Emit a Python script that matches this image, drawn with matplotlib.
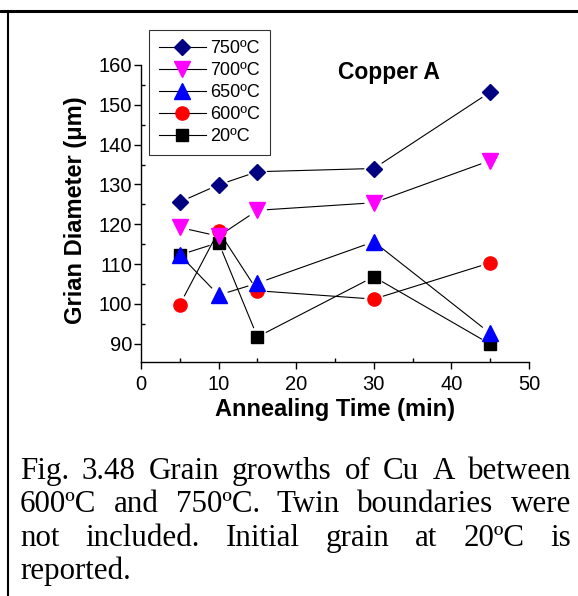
import numpy as np
import matplotlib
matplotlib.use("Agg")
import matplotlib.pyplot as plt
from matplotlib.lines import Line2D
from matplotlib.ticker import MultipleLocator

# annealing times (min) and grain diameters (um) per temperature
times = [5, 10, 15, 30, 45]
d750 = [125.6, 129.9, 133.2, 134.0, 153.2]
d700 = [119.2, 117.0, 123.5, 125.4, 136.0]
d650 = [112.3, 102.2, 105.2, 115.6, 92.6]
d600 = [99.8, 118.3, 103.3, 101.2, 110.3]
d20 = [112.3, 115.4, 91.7, 106.8, 89.9]

labels = ["750ºC", "700ºC", "650ºC", "600ºC", "20ºC"]
colors = ["#000080", "#ff00ff", "#0000ff", "#ff0000", "#000000"]
markers = ["D", "v", "^", "o", "s"]
msizes = [8.3, 11, 11, 9.5, 8.6]
series = [d750, d700, d650, d600, d20]

caption = ["Fig. 3.48 Grain growths of Cu A between",
           "600ºC and 750ºC. Twin boundaries were",
           "not included. Initial grain at 20ºC is",
           "reported."]

W, H = 578, 596
fig = plt.figure(figsize=(W / 100, H / 100), dpi=100)
plt.rcParams['font.family'] = ['Liberation Sans', 'DejaVu Sans']

ax = fig.add_axes([141 / W, 1 - 362 / H, 388 / W, 297 / H])
ax.set_xlim(0, 50)
ax.set_ylim(85.4, 160)
for s in ["top", "right"]:
    ax.spines[s].set_visible(False)
for s in ["left", "bottom"]:
    ax.spines[s].set_linewidth(1.0)

ax.xaxis.set_major_locator(MultipleLocator(10))
ax.xaxis.set_minor_locator(MultipleLocator(5))
ax.yaxis.set_minor_locator(MultipleLocator(5))
ax.set_yticks(np.arange(90, 161, 10))
ax.tick_params(which="major", direction="out", length=5, width=1, labelsize=14.5)
ax.tick_params(axis="x", which="major", pad=4)
ax.tick_params(axis="y", which="major", pad=1.5)
ax.tick_params(which="minor", direction="in", length=3, width=1)


def gapped_line(ax, xs, ys, gap=10):
    # connect points with segments that stop short of each marker
    tr = ax.transData
    pts = tr.transform(np.column_stack([xs, ys]))
    inv = tr.inverted()
    for p, q in zip(pts[:-1], pts[1:]):
        d = q - p
        u = d / np.hypot(*d)
        a, b = inv.transform([p + u * gap, q - u * gap])
        ax.plot([a[0], b[0]], [a[1], b[1]], color="black", lw=0.8, zorder=2)


for ys in series:
    gapped_line(ax, times, ys)

for ys, c, m, ms in reversed(list(zip(series, colors, markers, msizes))):
    ax.plot(times, ys, ls="none", marker=m, ms=ms, mfc=c, mec=c, zorder=3)

ax.set_xlabel("Annealing Time (min)", fontsize=17, fontweight="bold")
ax.set_ylabel("Grian Diameter (μm)", fontsize=17, fontweight="bold")
ax.yaxis.set_label_coords(-0.14, 0.51)
ax.xaxis.set_label_coords(0.5, -0.12)

ax.text(25.4, 158.2, "Copper A", fontsize=16.5, fontweight="bold", va="center", ha="left")

handles = [Line2D([], [], color="black", lw=0.8, marker=m, ms=ms, mfc=c, mec=c)
           for c, m, ms in zip(colors, markers, msizes)]
leg = fig.legend(handles, labels, loc="upper left", bbox_to_anchor=(149 / W, 1 - 30 / H),
                 fontsize=13, frameon=True, fancybox=False, edgecolor="black",
                 handlelength=2.6, handletextpad=0.25, labelspacing=0.28,
                 borderpad=0.55, borderaxespad=0)
leg.get_frame().set_linewidth(0.8)

# page frame lines
fig.add_artist(Line2D([0, 1], [1 - 10.5 / H, 1 - 10.5 / H], color="black", lw=2.2))
fig.add_artist(Line2D([7.5 / W, 7.5 / W], [0, 1 - 10.5 / H], color="black", lw=1.5))

# justified caption
renderer = fig.canvas.get_renderer()
left, right = 20, 571
base0, step = 479, 33.3
for i, line in enumerate(caption):
    words = line.split(" ")
    y = 1 - (base0 + i * step) / H
    texts = [fig.text(0, y, w, fontsize=22.3, family="Liberation Serif", va="baseline")
             for w in words]
    widths = [t.get_window_extent(renderer).width for t in texts]
    if i < len(caption) - 1 and len(words) > 1:
        space = (right - left - sum(widths)) / (len(words) - 1)
    else:
        space = 7.5
    x = left
    for t, w in zip(texts, widths):
        t.set_x(x / W)
        x += w + space

fig.savefig("out.png", dpi=100)
